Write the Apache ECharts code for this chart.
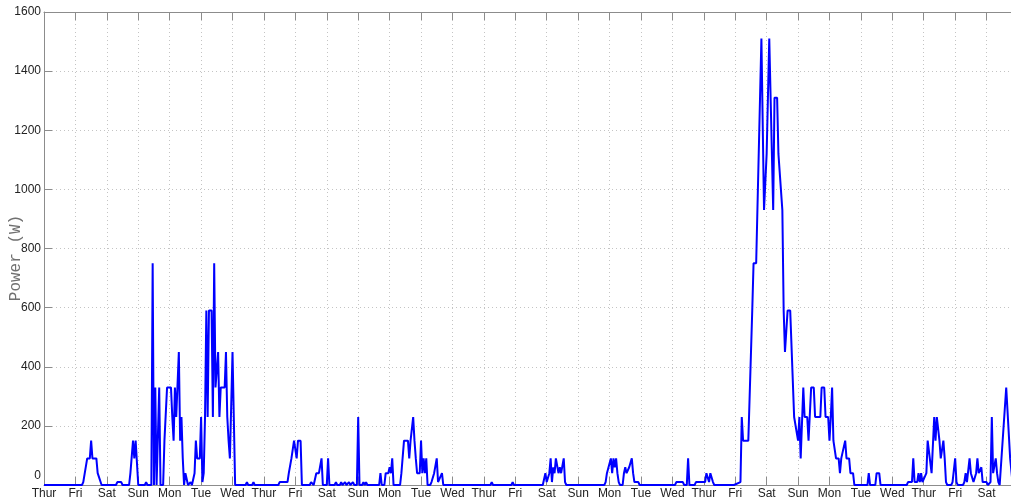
<!DOCTYPE html>
<html>
<head>
<meta charset="utf-8">
<script src="https://cdn.jsdelivr.net/npm/echarts@6/dist/echarts.min.js"></script>
<style>
  html, body { margin: 0; padding: 0; background: #ffffff; overflow: hidden; }
  /* the canvas is a little wider than the window, so the plot runs past its right edge */
  #chart { width: 1018px; height: 501px; }
</style>
</head>
<body>
<div id="chart"></div>
<script>
// Day names for the x axis, one tick every 24 hours, starting on Thursday
const dayNames = ['Thur', 'Fri', 'Sat', 'Sun', 'Mon', 'Tue', 'Wed'];

// Power readings as [hour since Thursday 00:00, watts]
const week1 = [
  [0,0],[29,0],[30,10],[33,90],[35,90],[36,150],[37,90],[40,90],[41,40],[42,40],[44,0],
  [55,0],[56,10],[59,10],[60,0],
  [65,0],[66,40],[67,40],[68,150],[69,90],[70,150],[71,150],[72,0],
  [77,0],[78,10],[79,0],
  [82,0],[83,750],[84,0],[85,330],[86,0],[87,0],[88,330],[89,0],
  [91,0],[92,150],[93,150],[94,330],[97,330],[98,230],[99,150],[100,330],[101,230],[102,230],
  [103,450],[104,150],[105,230],[106,90],[107,0],[108,40],[109,40],[110,0],
  [111,0],[112,10],[113,0],[114,0],[115,40],[116,150],[117,90],[119,90],[120,230],[121,10],
  [122,40],[123,230],[124,590],[125,230],[126,590],[128,590],[129,230],[130,750],[131,330],
  [132,330],[133,450],[134,230],[135,330],[138,330],[139,450],[140,230],[141,150],[142,90],
  [144,450],[146,0],
  [154,0],[155,10],[156,0],[159,0],[160,10],[161,0]
];
const week2 = [
  [179,0],[180,10],[186,10],[187,40],[188,40],[189,90],[191,150],[192,150],[193,90],[194,150],[196,150],[197,0],
  [203,0],[204,10],[205,10],[206,0],[207,0],[208,40],[210,40],[212,90],[213,0],[216,0],[217,90],[218,0],
  [222,0],[223,10],[224,0],[226,0],[227,10],[228,0],[229,0],[230,10],[231,0],[232,0],[233,10],[234,0],
  [235,0],[236,10],[237,0],
  [239,0],[240,230],[241,0],
  [243,0],[244,10],[245,0],[246,10],[247,0],
  [256,0],[257,40],[258,0],[260,0],[261,40],[263,40],[264,60],[265,40],[266,90],[267,0],
  [272,0],[273,40],[274,40],[275,150],[278,150],[279,90],[280,150],[282,230],[283,150],[284,90],
  [285,40],[287,40],[288,150],[289,40],[290,90],[291,40],[292,90],[293,0],
  [295,0],[296,10],[297,10],[298,40],[300,90],[301,10],[302,10],[304,40],[305,0]
];
const week3 = [
  [341,0],[342,10],[343,0],[357,0],[358,10],[359,0],
  [381,0],[383,40],[384,10],[386,40],[387,90],[388,10],[389,60],[390,40],[391,90],[393,40],
  [394,60],[395,40],[396,40],[397,90],[398,10],[399,0],
  [428,0],[429,10],[430,40],[431,40],[433,90],[434,40],[435,90],[436,60],[437,90],[438,40],
  [439,10],[440,0],[442,0],[443,40],[444,60],[445,40],[446,40],[447,60],[448,60],[449,90],
  [450,40],[451,10],[454,10],[455,0],
  [482,0],[483,10],[488,10],[489,0],[491,0],[492,90],[493,0],
  [497,0],[498,10],[505,10],[506,40],[507,40],[508,10],[509,40],[510,40],[511,10],[512,0]
];
const week4 = [
  [527,0],[528,5],[532,10],[533,230],[534,150],[535,150],[538,150],[541,590],[542,750],[544,750],
  [548,1510],[550,930],[551,930],[552,1120],[554,1510],[557,930],[558,1310],[560,1310],[561,1120],
  [562,1120],[564,930],[565,590],[566,450],[567,450],[568,590],[570,590],[573,230],[574,230],
  [576,150],[577,230],[578,90],[580,330],[581,230],[583,230],[584,150],[586,330],[588,330],
  [589,230],[593,230],[594,330],[596,330],[597,230],[599,230],[600,150],[601,230],[602,330],
  [603,150],[605,90],[607,90],[608,40],[609,90],[612,150],[613,90],[615,90],[616,40],[618,40],[619,0],
  [629,0],[630,40],[631,0],[635,0],[636,40],[638,40],[639,0],
  [659,0],[660,10],[663,10],[664,90],[665,10],[667,10],[668,40],[669,10],[670,40],[671,10],
  [672,10],[674,40],[675,150],[676,150],[678,40],[680,230],[681,150],[682,230],[683,230],
  [684,150],[685,90],[687,150],[688,90],[689,10],[690,0],
  [693,0],[694,10],[696,90],[697,10],[698,0],
  [702,0],[703,10],[704,40],[705,10],[706,10],[707,90],[708,40],[709,40],[710,10],[712,40],
  [713,90],[714,40],[715,40],[716,60],[717,10],[720,10],[721,0],
  [723,10],[724,230],[725,40],[726,40],[727,90],[728,40],[729,10],[730,0],[731,0],
  [735,330],[736,330],[738,90],[740,0]
];
const samples = week1.concat(week2, week3, week4);

const axisGrey = '#8c8c8c';
const labelFont = 'Liberation Sans, Arial, Helvetica, sans-serif';

const chart = echarts.init(document.getElementById('chart'), null, { renderer: 'canvas' });
chart.setOption({
  animation: false,
  backgroundColor: '#ffffff',
  grid: { left: 44, top: 12, right: 0, bottom: 16, containLabel: false },
  xAxis: [
    {
      type: 'value', min: 0, max: 744, interval: 24, position: 'bottom',
      axisLine: { show: true, onZero: false, lineStyle: { color: axisGrey, width: 1 } },
      axisTick: { show: true, inside: true, length: 8, lineStyle: { color: axisGrey } },
      axisLabel: {
        formatter: v => dayNames[Math.round(v / 24) % 7],
        color: '#222', fontSize: 12, fontFamily: labelFont, margin: 3,
        showMaxLabel: false
      },
      splitLine: { show: true, lineStyle: { type: [1, 3], color: '#c4c4c4', width: 1 } }
    },
    {
      type: 'value', min: 0, max: 744, interval: 24, position: 'top',
      axisLine: { show: true, onZero: false, lineStyle: { color: axisGrey, width: 1 } },
      axisTick: { show: true, inside: true, length: 8, lineStyle: { color: axisGrey } },
      axisLabel: { show: false },
      splitLine: { show: false }
    }
  ],
  yAxis: [
    {
      type: 'value', min: 0, max: 1600, interval: 200,
      axisLine: { show: true, onZero: false, lineStyle: { color: axisGrey, width: 1 } },
      axisTick: { show: true, inside: true, length: 8, lineStyle: { color: axisGrey } },
      axisLabel: {
        formatter: v => (v === 0 ? '{z|0}' : String(v)),
        color: '#222', fontSize: 12, fontFamily: labelFont, margin: 3,
        rich: { z: { padding: [0, 0, 18, 0], color: '#222', fontSize: 12, fontFamily: labelFont } }
      },
      splitLine: { show: true, lineStyle: { type: [1, 3], color: '#c4c4c4', width: 1 } }
    }
  ],
  graphic: [
    {
      type: 'text', x: 16, y: 258, rotation: Math.PI / 2,
      style: {
        text: 'Power (W)', fill: '#707070',
        font: '16px "Liberation Mono", "DejaVu Sans Mono", monospace',
        align: 'center', verticalAlign: 'middle'
      }
    }
  ],
  series: [
    {
      type: 'line', xAxisIndex: 0, yAxisIndex: 0,
      data: samples, showSymbol: false, symbol: 'none',
      lineStyle: { color: '#0000ff', width: 2 },
      clip: true
    }
  ]
});
</script>
</body>
</html>
